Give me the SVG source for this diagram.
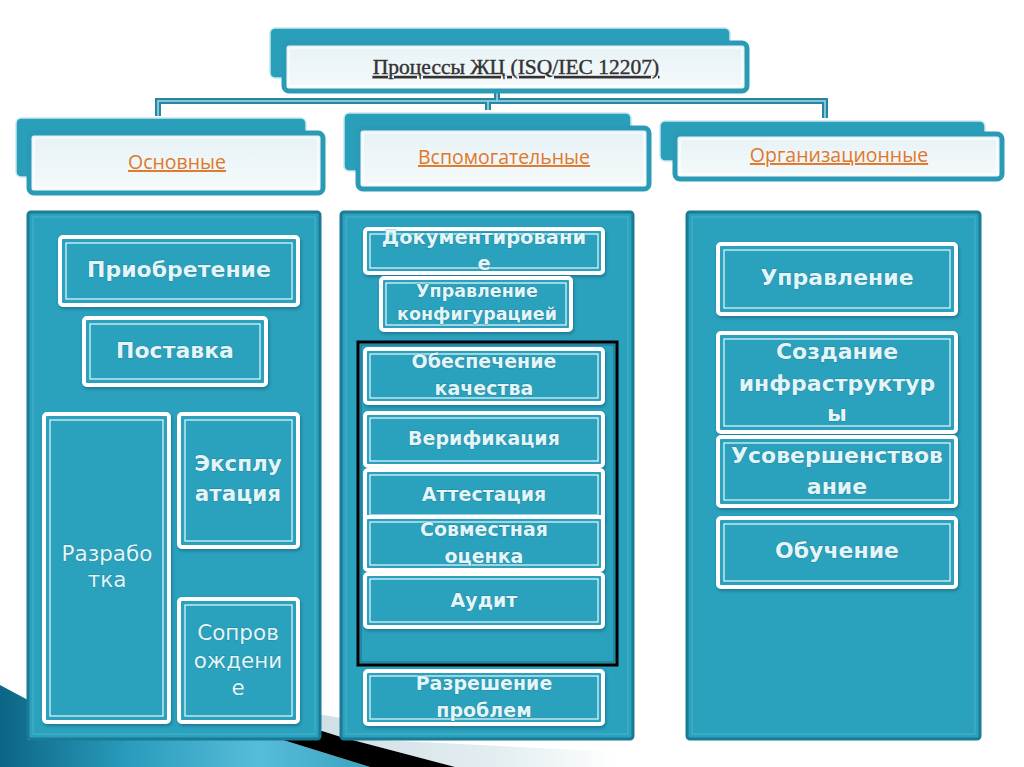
<svg xmlns="http://www.w3.org/2000/svg" width="1024" height="767" viewBox="0 0 1024 767">
<defs>
<linearGradient id="swoosh" x1="0" y1="0" x2="1" y2="0">
<stop offset="0" stop-color="#0c6584"/>
<stop offset="0.35" stop-color="#2a9cbd"/>
<stop offset="0.7" stop-color="#57bcd8"/>
<stop offset="1" stop-color="#3aa3c2"/>
</linearGradient>
<linearGradient id="grey" gradientUnits="userSpaceOnUse" x1="320" y1="0" x2="620" y2="0">
<stop offset="0" stop-color="#cfe0e6"/>
<stop offset="0.6" stop-color="#e3eef1"/>
<stop offset="1" stop-color="#ffffff"/>
</linearGradient>
<linearGradient id="front" x1="0" y1="0" x2="0" y2="1">
<stop offset="0" stop-color="#e6f2f6"/>
<stop offset="1" stop-color="#f6fafb"/>
</linearGradient>
<filter id="sh" x="-10%" y="-10%" width="120%" height="130%">
<feDropShadow dx="1" dy="2" stdDeviation="1.5" flood-color="#0b4f63" flood-opacity="0.5"/>
</filter>
</defs>
<style>
.back{fill:#2a9fba;stroke:#c7e7ee;stroke-width:1.5}
.frontO{fill:url(#front);stroke:#2b9ab6;stroke-width:5}
.frontI{fill:none;stroke:#ffffff;stroke-width:1.2}
.panel{fill:#2aa1bd;stroke:#1b7b95;stroke-width:3}
.panelI{fill:none;stroke:#4bb3cb;stroke-width:1}
.item{fill:#2aa1bd;stroke:#ffffff;stroke-width:4;filter:url(#sh)}
.itemI{fill:none;stroke:#e8f8fb;stroke-width:1.2}
.t{font-family:"DejaVu Sans",Verdana,sans-serif;font-weight:bold;fill:#e2f6f9;stroke:#1d6f86;stroke-width:0.6;paint-order:stroke;text-anchor:middle}
.tn{font-family:"DejaVu Sans",Verdana,sans-serif;fill:#e2f6f9;stroke:#1d6f86;stroke-width:0.5;paint-order:stroke;text-anchor:middle}
.cat{font-family:"Open Sans","DejaVu Sans",sans-serif;fill:#e0782a;font-size:19.5px;text-anchor:middle;text-decoration:underline}
.hdr{font-family:"Liberation Serif",serif;fill:#333333;stroke:#333333;stroke-width:0.4;font-size:21.5px;text-anchor:middle;text-decoration:underline}
.conO{fill:none;stroke:#2a86a0;stroke-width:6}
.conI{fill:none;stroke:#9fdbe8;stroke-width:1.5}
</style>
<rect width="1024" height="767" fill="#ffffff"/>

<!-- decorative swoosh -->
<path d="M0,685 L28,700 L28,740 L283,740 L370,767 L0,767 Z" fill="url(#swoosh)"/>
<path d="M318,714 L341,718 L341,738 L620,752 L620,767 L455,767 L341,737 L322,732 Z" fill="url(#grey)"/>
<path d="M283,740 L322,731 L341,737 L455,767 L370,767 Z" fill="#000000"/>

<!-- connectors -->
<g id="connectors">
<path class="conO" d="M497,92 V101 M158,116 V101 H825 V118 M488,101 V110"/>
<path class="conI" d="M497,92 V101 M158,116 V101 H825 V118 M488,101 V110"/>
</g>

<g id="root">
<rect class="back" x="270" y="28" width="460" height="50" rx="5"/>
<rect class="frontO" x="284" y="43" width="463" height="48" rx="5"/>
<rect class="frontI" x="289" y="48" width="453" height="38" rx="2"/>
<text class="hdr" x="516" y="74">Процессы ЖЦ (ISQ/IEC 12207)</text>
</g>

<g id="cat-main">
<rect class="back" x="16" y="118" width="290" height="59" rx="5"/>
<rect class="frontO" x="29" y="133" width="294" height="60" rx="5"/>
<rect class="frontI" x="34" y="138" width="284" height="50" rx="2"/>
<text class="cat" x="177" y="169">Основные</text>
</g>
<g id="cat-support">
<rect class="back" x="344" y="113" width="287" height="58" rx="5"/>
<rect class="frontO" x="358" y="128" width="291" height="61" rx="5"/>
<rect class="frontI" x="363" y="133" width="281" height="51" rx="2"/>
<text class="cat" x="504" y="164">Вспомогательные</text>
</g>
<g id="cat-org">
<rect class="back" x="660" y="121" width="325" height="40" rx="5"/>
<rect class="frontO" x="675" y="134" width="327" height="45" rx="5"/>
<rect class="frontI" x="680" y="139" width="317" height="35" rx="2"/>
<text class="cat" x="839" y="162">Организационные</text>
</g>

<!-- panels -->
<g id="panel-main">
<rect class="panel" x="28" y="212" width="292" height="527" rx="3"/>
<rect class="panelI" x="33" y="217" width="282" height="517"/>
</g>
<g id="panel-support">
<rect class="panel" x="341" y="212" width="292" height="527" rx="3"/>
<rect class="panelI" x="346" y="217" width="282" height="517"/>
</g>
<g id="panel-org">
<rect class="panel" x="687" y="212" width="293" height="527" rx="3"/>
<rect class="panelI" x="692" y="217" width="283" height="517"/>
</g>

<!-- main items -->
<g id="acq">
<rect class="item" x="60" y="237" width="238" height="68" rx="3"/>
<rect class="itemI" x="66" y="243" width="226" height="56"/>
<text class="t" x="179" y="277" font-size="22">Приобретение</text>
</g>
<g id="supply">
<rect class="item" x="84" y="318" width="182" height="67" rx="3"/>
<rect class="itemI" x="90" y="324" width="170" height="55"/>
<text class="t" x="175" y="358" font-size="22">Поставка</text>
</g>
<g id="dev">
<rect class="item" x="44" y="414" width="125" height="308" rx="3"/>
<rect class="itemI" x="50" y="420" width="113" height="296"/>
<text class="tn" x="107" y="561" font-size="21.5">Разрабо</text>
<text class="tn" x="107" y="587" font-size="21.5">тка</text>
</g>
<g id="oper">
<rect class="item" x="179" y="414" width="119" height="133" rx="3"/>
<rect class="itemI" x="185" y="420" width="107" height="121"/>
<text class="t" x="238" y="471" font-size="21.5">Эксплу</text>
<text class="t" x="238" y="501" font-size="21.5">атация</text>
</g>
<g id="maint">
<rect class="item" x="179" y="599" width="119" height="123" rx="3"/>
<rect class="itemI" x="185" y="605" width="107" height="111"/>
<text class="tn" x="238" y="640" font-size="21.5">Сопров</text>
<text class="tn" x="238" y="668" font-size="21.5">ождени</text>
<text class="tn" x="238" y="695" font-size="21.5">е</text>
</g>

<!-- support items -->
<g id="doc">
<rect class="item" x="365" y="229" width="238" height="44" rx="3"/>
<rect class="itemI" x="370" y="234" width="228" height="34"/>
<text class="t" x="484" y="244" font-size="19.5">Документировани</text>
<text class="t" x="484" y="270" font-size="19.5">е</text>
</g>
<g id="cfg">
<rect class="item" x="381" y="278" width="190" height="52" rx="3"/>
<rect class="itemI" x="386" y="283" width="180" height="42"/>
<text class="t" x="477" y="297" font-size="17.5">Управление</text>
<text class="t" x="477" y="320" font-size="17.5">конфигурацией</text>
</g>
<rect x="358" y="342" width="259" height="323" fill="none" stroke="#000000" stroke-width="3"/>
<rect x="361" y="345" width="253" height="317" fill="none" stroke="#1c6f86" stroke-width="1"/>
<g id="qa">
<rect class="item" x="365" y="349" width="238" height="54" rx="3"/>
<rect class="itemI" x="370" y="354" width="228" height="44"/>
<text class="t" x="484" y="368" font-size="19">Обеспечение</text>
<text class="t" x="484" y="395" font-size="19">качества</text>
</g>
<g id="verif">
<rect class="item" x="365" y="413" width="238" height="53" rx="3"/>
<rect class="itemI" x="370" y="418" width="228" height="43"/>
<text class="t" x="484" y="445" font-size="19">Верификация</text>
</g>
<g id="valid">
<rect class="item" x="365" y="470" width="238" height="50" rx="3"/>
<rect class="itemI" x="370" y="475" width="228" height="40"/>
<text class="t" x="484" y="501" font-size="19">Аттестация</text>
</g>
<g id="review">
<rect class="item" x="365" y="517" width="238" height="53" rx="3"/>
<rect class="itemI" x="370" y="522" width="228" height="43"/>
<text class="t" x="484" y="536" font-size="19">Совместная</text>
<text class="t" x="484" y="563" font-size="19">оценка</text>
</g>
<g id="audit">
<rect class="item" x="365" y="574" width="238" height="53" rx="3"/>
<rect class="itemI" x="370" y="579" width="228" height="43"/>
<text class="t" x="484" y="607" font-size="19">Аудит</text>
</g>
<g id="problem">
<rect class="item" x="365" y="671" width="238" height="53" rx="3"/>
<rect class="itemI" x="370" y="676" width="228" height="43"/>
<text class="t" x="484" y="690" font-size="19">Разрешение</text>
<text class="t" x="484" y="717" font-size="19">проблем</text>
</g>

<!-- org items -->
<g id="mgmt">
<rect class="item" x="718" y="244" width="238" height="70" rx="3"/>
<rect class="itemI" x="724" y="250" width="226" height="58"/>
<text class="t" x="837" y="285" font-size="22">Управление</text>
</g>
<g id="infra">
<rect class="item" x="718" y="333" width="238" height="99" rx="3"/>
<rect class="itemI" x="724" y="339" width="226" height="87"/>
<text class="t" x="837" y="359" font-size="22">Создание</text>
<text class="t" x="837" y="391" font-size="22">инфраструктур</text>
<text class="t" x="837" y="421" font-size="22">ы</text>
</g>
<g id="improve">
<rect class="item" x="718" y="437" width="238" height="69" rx="3"/>
<rect class="itemI" x="724" y="443" width="226" height="57"/>
<text class="t" x="837" y="463" font-size="22">Усовершенствов</text>
<text class="t" x="837" y="494" font-size="22">ание</text>
</g>
<g id="training">
<rect class="item" x="718" y="518" width="238" height="69" rx="3"/>
<rect class="itemI" x="724" y="524" width="226" height="57"/>
<text class="t" x="837" y="558" font-size="22">Обучение</text>
</g>
</svg>
